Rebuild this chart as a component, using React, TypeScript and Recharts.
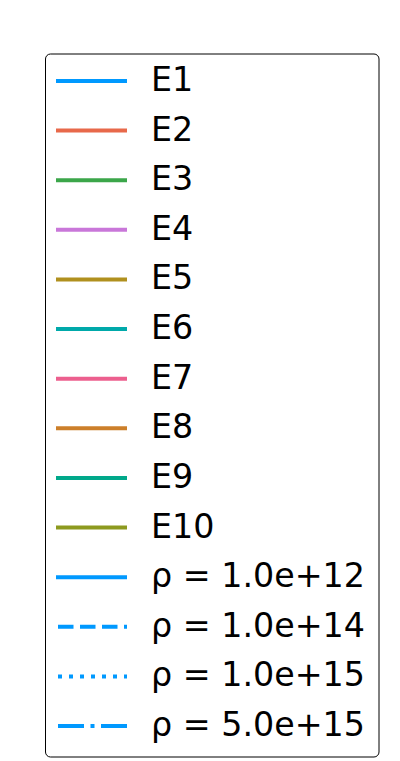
import React from 'react';
import { LineChart, Line, Legend } from 'recharts';

const energyNames = ['E1', 'E2', 'E3', 'E4', 'E5', 'E6', 'E7', 'E8', 'E9', 'E10'];
const energyColors = ['#0099ff', '#e8694a', '#3ba64a', '#c977d9', '#b0901e', '#00a9aa', '#ec5f8e', '#cc7f2a', '#00a88a', '#8d9a1f'];
const densityLabels = ['ρ = 1.0e+12', 'ρ = 1.0e+14', 'ρ = 1.0e+15', 'ρ = 5.0e+15'];
const densityColor = '#0099ff';
const densityDashes = ['', '15.5 6.5', '4 7', '26 6.5 4 6.5'];

const legendOrder = [...energyNames, ...densityLabels];

const chartData: Record<string, number | null>[] = [];

const W = 400;
const H = 761;

const LegendBox = (props: any) => {
  const payload = [...(props.payload || [])].sort(
    (a: any, b: any) => legendOrder.indexOf(a.value) - legendOrder.indexOf(b.value)
  );
  const rowY0 = 81;
  const rowStep = 49.62;
  return (
    <svg width={W} height={H} style={{ display: 'block' }}>
      <rect x={45.5} y={54} width={333.5} height={703} rx={5} ry={5} fill="#fff" stroke="#000" strokeWidth={1} />
      {payload.map((entry: any, i: number) => {
        const y = rowY0 + i * rowStep;
        const dash = entry.payload?.strokeDasharray || '';
        const x1 = dash ? 58 : 56;
        return (
          <g key={i}>
            <line x1={x1} x2={127} y1={y} y2={y} stroke={entry.color} strokeWidth={4} strokeDasharray={dash || undefined} />
            <text x={151} y={y + 10} fontFamily="DejaVu Sans" fontSize={33.3} fill="#000">
              {entry.value}
            </text>
          </g>
        );
      })}
    </svg>
  );
};

export default function App() {
  return (
    <div style={{ position: 'absolute', left: 0, top: 0, width: W, height: H, background: '#fff' }}>
      <LineChart width={W} height={H} data={chartData} margin={{ top: 0, right: 0, bottom: 0, left: 0 }}>
        {energyNames.map((n, i) => (
          <Line key={n} dataKey={n} name={n} stroke={energyColors[i]} strokeWidth={4} dot={false} isAnimationActive={false} />
        ))}
        {densityLabels.map((n, i) => (
          <Line
            key={n}
            dataKey={'rho' + i}
            name={n}
            stroke={densityColor}
            strokeWidth={4}
            strokeDasharray={densityDashes[i] || undefined}
            dot={false}
            isAnimationActive={false}
          />
        ))}
        <Legend
          content={<LegendBox />}
          wrapperStyle={{ position: 'absolute', left: 0, top: 0, width: W, height: H }}
        />
      </LineChart>
    </div>
  );
}
